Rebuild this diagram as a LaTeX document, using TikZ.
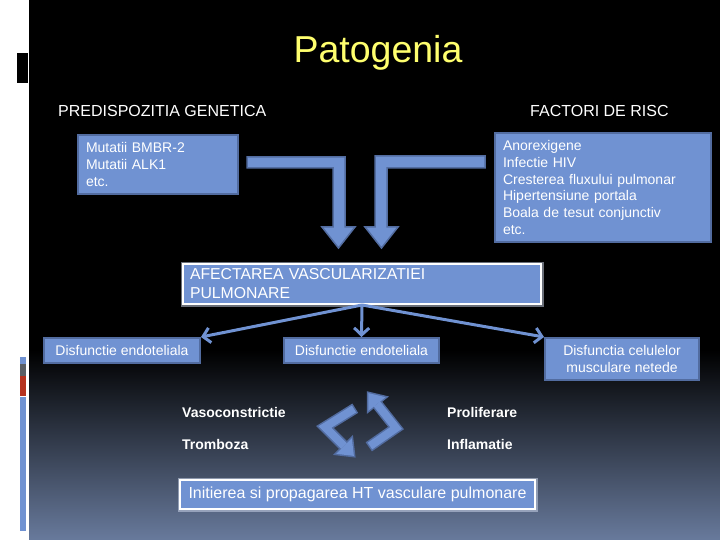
\documentclass[tikz,border=0pt]{standalone}
\usepackage{fontspec}
\setmainfont{Liberation Sans}
\usetikzlibrary{arrows.meta}
\definecolor{boxfill}{RGB}{112,146,210}
\definecolor{boxline}{RGB}{82,108,160}
\definecolor{titley}{RGB}{255,255,110}
\definecolor{bgbot}{RGB}{104,122,156}
\definecolor{barred}{RGB}{181,50,31}
\definecolor{bargray}{RGB}{90,95,102}
\begin{document}
\begin{tikzpicture}[x=1pt,y=-1pt,
  box/.style={draw=boxline, line width=2pt, fill=boxfill, text=white, inner xsep=8pt, inner ysep=0pt, font=\fontsize{14}{16.8}\selectfont},
  glowbox/.style={preaction={draw=white!70!boxfill, line width=5pt, opacity=0.5}, draw=white, line width=2pt, fill=boxfill, text=white, inner ysep=0pt},
  link/.style={draw=boxfill, line width=3pt, -{Straight Barb[length=7pt,width=15pt]}},
  bigarrow/.style={fill=boxfill, draw=boxline, line width=1.5pt, line join=miter},
  lbl/.style={text=white, font=\fontsize{16}{18}\selectfont, anchor=base west, inner sep=0pt},
  boldlbl/.style={text=white, font=\bfseries\fontsize{14}{16}\selectfont, anchor=base west, inner sep=0pt},
]
\useasboundingbox (0,0) rectangle (720,540);
% background
\fill[white] (0,0) rectangle (29,540);
\fill[black] (29,0) rectangle (720,350);
\shade[top color=black, bottom color=bgbot] (29,350) rectangle (720,540);
% left decorations
\fill[black] (17,53) rectangle (28,83);
\fill[boxfill] (20,357) rectangle (26,364);
\fill[bargray] (20,364) rectangle (26,376);
\fill[barred] (20,376) rectangle (26,396);
\fill[boxfill] (20,397) rectangle (26,531);
% title and headings
\node[text=titley, font=\fontsize{37.5}{40}\selectfont, anchor=base, inner sep=0pt] (title) at (378,63) {Patogenia};
\node[lbl] (gen) at (58,117) {PREDISPOZITIA GENETICA};
\node[lbl] (risc) at (530,117) {FACTORI DE RISC};
% top boxes
\node[box, anchor=north west, text width=144pt, minimum height=59pt, align=left] (gbox) at (77,134) {Mutatii BMBR-2\\Mutatii ALK1\\etc.};
\node[box, anchor=north west, text width=200pt, minimum height=109pt, align=left] (rbox) at (494,132) {Anorexigene\\Infectie HIV\\Cresterea fluxului pulmonar\\Hipertensiune portala\\Boala de tesut conjunctiv\\etc.};
% bent block arrows
\filldraw[bigarrow] (247,157) -- (345,157) -- (345,227) -- (355,227) -- (338.5,248) -- (322,227) -- (333,227) -- (333,168) -- (247,168) -- cycle;
\filldraw[bigarrow] (485,156) -- (375,156) -- (375,227) -- (365,227) -- (381.5,248) -- (398,227) -- (387,227) -- (387,168) -- (485,168) -- cycle;
% central box
\node[glowbox, anchor=north west, text width=344pt, minimum height=40pt, align=left, inner xsep=7pt, font=\fontsize{15.8}{19}\selectfont] (afect) at (182,263) {AFECTAREA VASCULARIZATIEI\\PULMONARE};
% row boxes
\node[box, anchor=north west, minimum width=156pt, minimum height=25pt, inner xsep=0pt] (d1) at (43,337) {Disfunctie endoteliala};
\node[box, anchor=north west, minimum width=155pt, minimum height=25pt, inner xsep=0pt] (d2) at (283,337) {Disfunctie endoteliala};
\node[box, anchor=north west, minimum width=154pt, minimum height=42pt, inner xsep=0pt, align=center, font=\fontsize{14}{17}\selectfont] (d3) at (544,337) {Disfunctia celulelor\\musculare netede};
% connectors
\draw[link] (afect.south) -- (d1.north east);
\draw[link] (afect.south) -- (d2.north);
\draw[link] (afect.south) -- (d3.north west);
% bottom labels
\node[boldlbl] (vaso) at (182,417) {Vasoconstrictie};
\node[boldlbl] (trom) at (182,449) {Tromboza};
\node[boldlbl] (prol) at (447,417) {Proliferare};
\node[boldlbl] (infl) at (447,449) {Inflamatie};
% cycle chevrons: border layer
\draw[boxline, line width=11pt, line join=miter, shorten <=-1.5pt] (354,409) -- (325,427) -- (344,446);
\filldraw[boxline, line width=3pt, line join=miter] (351.8,438.2) -- (353.9,455.9) -- (336.2,453.8) -- cycle;
\draw[boxline, line width=11pt, line join=miter, shorten <=-1.5pt] (370,446) -- (396,428) -- (377,404);
\filldraw[boxline, line width=3pt, line join=miter] (385.6,397.2) -- (368.3,393.1) -- (368.4,410.8) -- cycle;
% cycle chevrons: fill layer
\draw[boxfill, line width=8pt, line join=miter] (354,409) -- (325,427) -- (344,446);
\fill[boxfill] (351.8,438.2) -- (353.9,455.9) -- (336.2,453.8) -- cycle;
\draw[boxfill, line width=8pt, line join=miter] (370,446) -- (396,428) -- (377,404);
\fill[boxfill] (385.6,397.2) -- (368.3,393.1) -- (368.4,410.8) -- cycle;
% bottom box
\node[glowbox, anchor=north west, minimum width=355pt, minimum height=29pt, inner xsep=0pt, font=\fontsize{16}{19}\selectfont] (init) at (179,479) {Initierea si propagarea HT vasculare pulmonare};
\end{tikzpicture}
\end{document}
